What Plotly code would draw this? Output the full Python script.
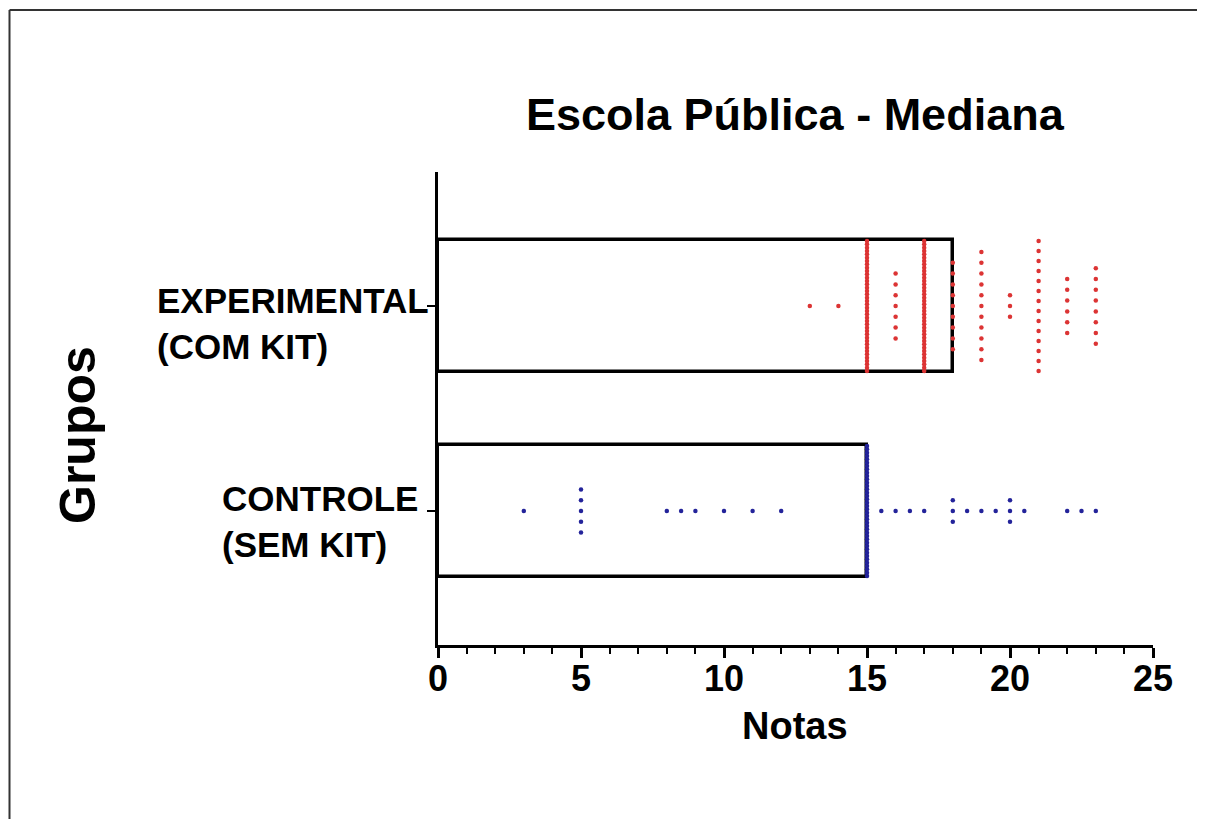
import plotly.graph_objects as go
from collections import Counter

# ---------------- data ----------------
categories = ["CONTROLE<br>(SEM KIT)", "EXPERIMENTAL<br>(COM KIT)"]
medians = [15, 18]  # bar values (median)

exp_values = ([13] + [14] + [15] * 40 + [16] * 7 + [17] * 40 + [18] * 9 +
              [19] * 11 + [20] * 3 + [21] * 14 + [22] * 6 + [23] * 8)
ctrl_values = ([3] + [5] * 5 + [8, 8.5, 9, 10, 11, 12] + [15] * 40 +
               [15.5, 16, 16.5, 17] + [18] * 3 + [18.5, 19, 19.5] + [20] * 3 +
               [20.5, 22, 22.5, 23])

x_ticks = [0, 5, 10, 15, 20, 25]

# ---------------- layout geometry (page px, body margin 8) ----------------
OFF = 8
W, H = 1205 - 2 * OFF, 827 - 2 * OFF
L, R, T, B = 438 - OFF, 1153 - OFF, 172 - OFF, 645 - OFF
PX_PER_CAT = 205.0
y_lo, y_hi = -(645 - 511) / PX_PER_CAT, 1 + (306 - 172) / PX_PER_CAT
bar_w = 132 / PX_PER_CAT


def px_x(px):
    return (px - OFF - L) / (R - L)


def px_y(py):
    return (B - (py - OFF)) / (B - T)


def swarm(values, center):
    """Stack equal values vertically, compressing tall columns."""
    base = 10.8 / PX_PER_CAT
    max_span = 130 / PX_PER_CAT
    xs, ys = [], []
    for v, n in sorted(Counter(values).items()):
        sp = base if n == 1 else min(base, max_span / (n - 1))
        for i in range(n):
            xs.append(v)
            ys.append(center + (i - (n - 1) / 2) * sp)
    return xs, ys


fig = go.Figure()
fig.add_trace(go.Bar(
    y=[0, 1], x=medians, orientation="h", width=bar_w,
    marker=dict(color="white", line=dict(color="black", width=3.5)),
    showlegend=False, hoverinfo="skip"))

ex, ey = swarm(exp_values, 1)
cx, cy = swarm(ctrl_values, 0)
fig.add_trace(go.Scatter(x=ex, y=ey, mode="markers",
                         marker=dict(color="#dc3434", size=4.5, line=dict(width=0)),
                         showlegend=False))
fig.add_trace(go.Scatter(x=cx, y=cy, mode="markers",
                         marker=dict(color="#23239a", size=4.5, line=dict(width=0)),
                         showlegend=False))

font_family = "Liberation Sans, Arial, sans-serif"

fig.update_layout(
    width=W, height=H, autosize=False,
    margin=dict(l=L, r=W - R, t=T, b=H - B, pad=0),
    paper_bgcolor="white", plot_bgcolor="white",
    font=dict(family=font_family, color="black"),
    xaxis=dict(range=[0, 25], tickvals=x_ticks, ticktext=[str(t) for t in x_ticks],
               showline=True, linecolor="black", linewidth=2.5,
               ticks="outside", ticklen=10, tickwidth=2.5, tickcolor="black",
               minor=dict(dtick=1, ticks="outside", ticklen=6, tickwidth=2, tickcolor="black"),
               showgrid=False, zeroline=False, ticklabelstandoff=-10,
               tickfont=dict(size=36, weight="bold", family=font_family)),
    yaxis=dict(range=[y_lo, y_hi], tickvals=[0, 1], showticklabels=False,
               showline=True, linecolor="black", linewidth=2.5,
               ticks="outside", ticklen=8, tickwidth=2, tickcolor="black",
               showgrid=False, zeroline=False),
    bargap=0,
)

ann = []
ann.append(dict(text="Escola Pública - Mediana", x=px_x(795), y=px_y(115),
                xref="paper", yref="paper", xanchor="center", yanchor="middle",
                showarrow=False, font=dict(size=45, weight="bold", family=font_family)))
ann.append(dict(text="Notas", x=px_x(795), y=px_y(726), xref="paper", yref="paper",
                xanchor="center", yanchor="middle", showarrow=False,
                font=dict(size=38, weight="bold", family=font_family)))
ann.append(dict(text="Grupos", x=px_x(78), y=px_y(435), xref="paper", yref="paper",
                xanchor="center", yanchor="middle", textangle=-90, showarrow=False,
                font=dict(size=50, weight="bold", family=font_family)))
label_left = [220, 155]
label_shift = [-10, -17]
for i, cat in enumerate(categories):
    ann.append(dict(text=cat, x=px_x(label_left[i]), y=i, xref="paper", yref="y",
                    xanchor="left", yanchor="middle", align="left", yshift=label_shift[i],
                    showarrow=False,
                    font=dict(size=35, weight="bold", family=font_family)))
fig.update_layout(annotations=ann)

# outer frame: only top and left edges are visible in the picture
frame = dict(color="#333333", width=2)
fig.add_shape(type="line", xref="paper", yref="paper",
              x0=px_x(9.5), x1=px_x(1205), y0=px_y(10), y1=px_y(10), line=frame, layer="below")
fig.add_shape(type="line", xref="paper", yref="paper",
              x0=px_x(9.5), x1=px_x(9.5), y0=px_y(10), y1=px_y(827), line=frame, layer="below")

fig.write_html("out.html")
